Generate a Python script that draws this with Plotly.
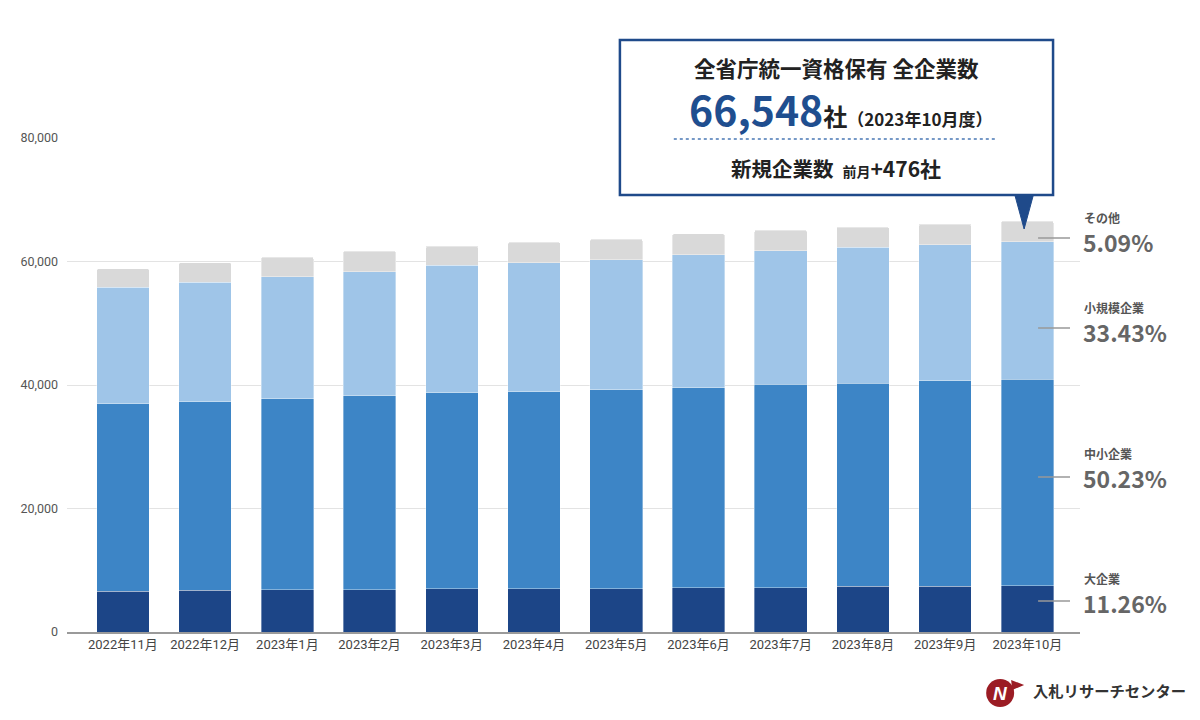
import plotly.graph_objects as go

# データ（全省庁統一資格保有企業数・企業規模別）
months = ["2022年11月", "2022年12月", "2023年1月", "2023年2月", "2023年3月", "2023年4月",
          "2023年5月", "2023年6月", "2023年7月", "2023年8月", "2023年9月", "2023年10月"]
large = [6600, 6800, 6820, 6830, 6980, 7000, 7010, 7180, 7200, 7420, 7450, 7493]
mid = [30350, 30520, 30950, 31450, 31780, 31880, 32200, 32400, 32900, 32900, 33200, 33427]
small = [18900, 19300, 19780, 20050, 20600, 20900, 21050, 21520, 21630, 21950, 22030, 22247]
other = [2980, 3190, 3150, 3370, 3150, 3310, 3360, 3360, 3360, 3300, 3392, 3381]
series_names = ["大企業", "中小企業", "小規模企業", "その他"]
share_labels = ["11.26%", "50.23%", "33.43%", "5.09%"]
colors = ["#1c4587", "#3d85c6", "#9fc5e8", "#d9d9d9"]

W, H = 1200, 720
OFF = 8  # ページ余白の分
L, R, T, B = 65 - OFF, 120 + OFF, 138 - OFF, 88 + OFF
FONT = "Roboto, 'Noto Sans CJK JP', sans-serif"
JP = "'Noto Sans CJK JP', 'Noto Sans', sans-serif"


def px_x(x):
    return (x - OFF - L) / (W - L - R)


def px_y(y):
    return (H - B - (y - OFF)) / (H - T - B)


fig = go.Figure()
for name, vals, col in zip(series_names, [large, mid, small, other], colors):
    fig.add_trace(go.Bar(x=list(range(len(months))), y=vals, name=name,
                         marker=dict(color=col, line=dict(width=0.6, color="rgba(255,255,255,0.6)")),
                         hoverinfo="y+name"))

total_now = large[-1] + mid[-1] + small[-1] + other[-1]
total_prev = large[-2] + mid[-2] + small[-2] + other[-2]
diff = total_now - total_prev

fig.update_layout(
    width=W, height=H, barmode="stack", bargap=0.36, barcornerradius=2,
    plot_bgcolor="white", paper_bgcolor="white", showlegend=False,
    margin=dict(l=L, r=R, t=T, b=B),
    font=dict(family=FONT, size=12, color="#444"),
    xaxis=dict(tickmode="array", tickvals=list(range(len(months))), ticktext=months,
               range=[-0.68, 11.64], showline=True, linecolor="#9a9a9a", linewidth=1.5,
               showgrid=False, ticks="", tickfont=dict(size=13, color="#444")),
    yaxis=dict(range=[0, 80000], tickvals=[0, 20000, 40000, 60000, 80000],
               tickformat=",d", gridcolor="#e3e3e3", gridwidth=1, zeroline=False,
               ticks="", tickfont=dict(size=12.5, color="#555"), ticklabelstandoff=8),
)

shapes = []
annos = []

# 右側ラベル
line_y = [601, 477, 328, 238]
name_y = [578, 453, 307, 217]
for nm, pct, ly, ny in zip(series_names, share_labels, line_y, name_y):
    shapes.append(dict(type="line", xref="paper", yref="paper",
                       x0=px_x(1038), x1=px_x(1070), y0=px_y(ly), y1=px_y(ly),
                       line=dict(color="#999", width=1.5)))
    annos.append(dict(text=f"<b>{nm}</b>", xref="paper", yref="paper", x=px_x(1082), y=px_y(ny),
                      xanchor="left", yanchor="middle", showarrow=False,
                      font=dict(family=JP, size=12, color="#555")))
    annos.append(dict(text=pct, xref="paper", yref="paper", x=px_x(1081), y=px_y(ny + 25),
                      xanchor="left", yanchor="middle", showarrow=False,
                      font=dict(family=JP, size=23, color="#666", weight=600)))

# 吹き出し
shapes.append(dict(type="rect", xref="paper", yref="paper",
                   x0=px_x(619), x1=px_x(1053), y0=px_y(195), y1=px_y(40),
                   line=dict(color="#1f4a8a", width=2.5), fillcolor="white"))
shapes.append(dict(type="path", xref="paper", yref="paper",
                   path=f"M {px_x(1015)},{px_y(196)} L {px_x(1033)},{px_y(196)} L {px_x(1024)},{px_y(229)} Z",
                   line=dict(color="#1f4a8a", width=1), fillcolor="#1f4a8a"))
shapes.append(dict(type="line", xref="paper", yref="paper",
                   x0=px_x(673), x1=px_x(995), y0=px_y(139), y1=px_y(139),
                   line=dict(color="#4a78b5", width=1.5, dash="dot")))
annos.append(dict(text="<b>全省庁統一資格保有 全企業数</b>", xref="paper", yref="paper",
                  x=px_x(836), y=px_y(67), showarrow=False, xanchor="center", yanchor="middle",
                  font=dict(family=JP, size=21.5, color="#222")))
annos.append(dict(text=(f"<span style='font-size:41px;color:#1f4e8f'><b>{total_now:,}</b></span>"
                        f"<span style='font-size:24px'><b>社</b></span>"
                        f"<span style='font-size:17px'><b>（2023年10月度）</b></span>"),
                  xref="paper", yref="paper", x=px_x(840), y=px_y(108), showarrow=False,
                  xanchor="center", yanchor="middle", font=dict(family=JP, size=17, color="#222")))
annos.append(dict(text=(f"<span style='font-size:20.5px'><b>新規企業数</b></span>  "
                        f"<span style='font-size:14px'><b>前月</b></span>"
                        f"<span style='font-size:21px'><b>+{diff}社</b></span>"),
                  xref="paper", yref="paper", x=px_x(836), y=px_y(168), showarrow=False,
                  xanchor="center", yanchor="middle", font=dict(family=JP, size=20, color="#222")))

# ロゴ
shapes.append(dict(type="circle", xref="paper", yref="paper",
                   x0=px_x(986), x1=px_x(1014), y0=px_y(707), y1=px_y(679),
                   line=dict(color="#9b1c24", width=0), fillcolor="#9b1c24"))
shapes.append(dict(type="path", xref="paper", yref="paper",
                   path=f"M {px_x(1011)},{px_y(680)} L {px_x(1024)},{px_y(685)} L {px_x(1012)},{px_y(690)} Z",
                   line=dict(color="#9b1c24", width=0), fillcolor="#9b1c24"))
annos.append(dict(text="<b><i>N</i></b>", xref="paper", yref="paper", x=px_x(1000), y=px_y(693),
                  showarrow=False, xanchor="center", yanchor="middle",
                  font=dict(family="Arial, sans-serif", size=19, color="white")))
annos.append(dict(text="<b>入札リサーチセンター</b>", xref="paper", yref="paper", x=px_x(1031), y=px_y(690),
                  showarrow=False, xanchor="left", yanchor="middle",
                  font=dict(family=JP, size=15.3, color="#333")))

fig.update_layout(shapes=shapes, annotations=annos)
fig.write_html("out.html")
